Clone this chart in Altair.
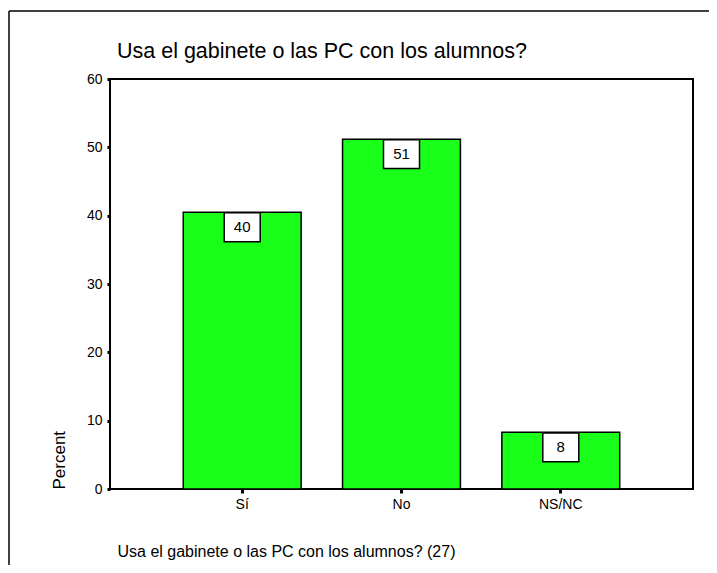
import altair as alt
import pandas as pd

categories = ["Sí", "No", "NS/NC"]
percent = [40.5, 51.2, 8.3]
labels = ["40", "51", "8"]
y_ticks = [0, 10, 20, 30, 40, 50, 60]
chart_title = ["Usa el gabinete o las PC con los alumnos?"]

FONT = "Liberation Sans"

df = pd.DataFrame({"cat": categories, "pct": percent, "lab": labels})
frame_df = pd.DataFrame({"k": [0]})
title_df = pd.DataFrame({"t": chart_title})

x_enc = alt.X(
    "cat:N",
    sort=categories,
    scale=alt.Scale(paddingInner=0.26, paddingOuter=0.46),
    axis=alt.Axis(
        title="Usa el gabinete o las PC con los alumnos? (27)",
        labelAngle=0, labelFontSize=14, labelColor="black", labelFont=FONT,
        tickSize=4, tickWidth=3, tickColor="black", domain=False, labelPadding=4,
        titleFontSize=16, titleFontWeight="normal", titleFont=FONT, titleColor="black",
        titleAnchor="start", titleAlign="left", titleX=7, titleY=67,
        titleBaseline="alphabetic",
    ),
)
y_enc = alt.Y(
    "pct:Q",
    scale=alt.Scale(domain=[0, 60], nice=False),
    axis=alt.Axis(
        values=y_ticks, grid=False, title="Percent",
        labelFontSize=14, labelColor="black", labelFont=FONT,
        tickSize=3, tickWidth=3, tickColor="black", domain=False, labelPadding=5,
        titleFontSize=17, titleFontWeight="normal", titleFont=FONT, titleColor="black",
        titleAngle=270, titleAlign="left", titleX=-46, titleY=410,
        titleBaseline="alphabetic",
    ),
)

bars = alt.Chart(df).mark_bar(color="#1aff1a", stroke="black", strokeWidth=1.5).encode(
    x=x_enc, y=y_enc
)

boxes = alt.Chart(df).mark_point(
    shape="M-1,-0.8H1V0.8H-1Z", size=1296, filled=True, fill="white",
    stroke="black", strokeWidth=1.5, opacity=1, fillOpacity=1, strokeOpacity=1,
    yOffset=15,
).encode(x=alt.X("cat:N", sort=categories), y="pct:Q")

texts = alt.Chart(df).mark_text(
    fontSize=15, font=FONT, color="black", baseline="middle", yOffset=15
).encode(x=alt.X("cat:N", sort=categories), y="pct:Q", text="lab:N")

title_mark = alt.Chart(title_df).mark_text(
    fontSize=21.5, font=FONT, color="black", align="left", baseline="alphabetic"
).encode(x=alt.value(7), y=alt.value(-21), text="t:N")

frame_left = alt.Chart(frame_df).mark_rule(color="black", strokeWidth=1.5).encode(
    x=alt.value(-101), y=alt.value(-68), y2=alt.value(490)
)
frame_top = alt.Chart(frame_df).mark_rule(color="black", strokeWidth=1.5).encode(
    x=alt.value(-101), x2=alt.value(620), y=alt.value(-68)
)

chart = (
    alt.layer(frame_left, frame_top, bars, boxes, texts, title_mark)
    .properties(
        width=583, height=410,
        padding={"left": 102, "top": 71, "right": 16, "bottom": 76},
        autosize=alt.AutoSizeParams(type="none"),
    )
    .configure_view(stroke="black", strokeWidth=2)
)

chart.save("out.html", embed_options={"renderer": "svg", "actions": False})
